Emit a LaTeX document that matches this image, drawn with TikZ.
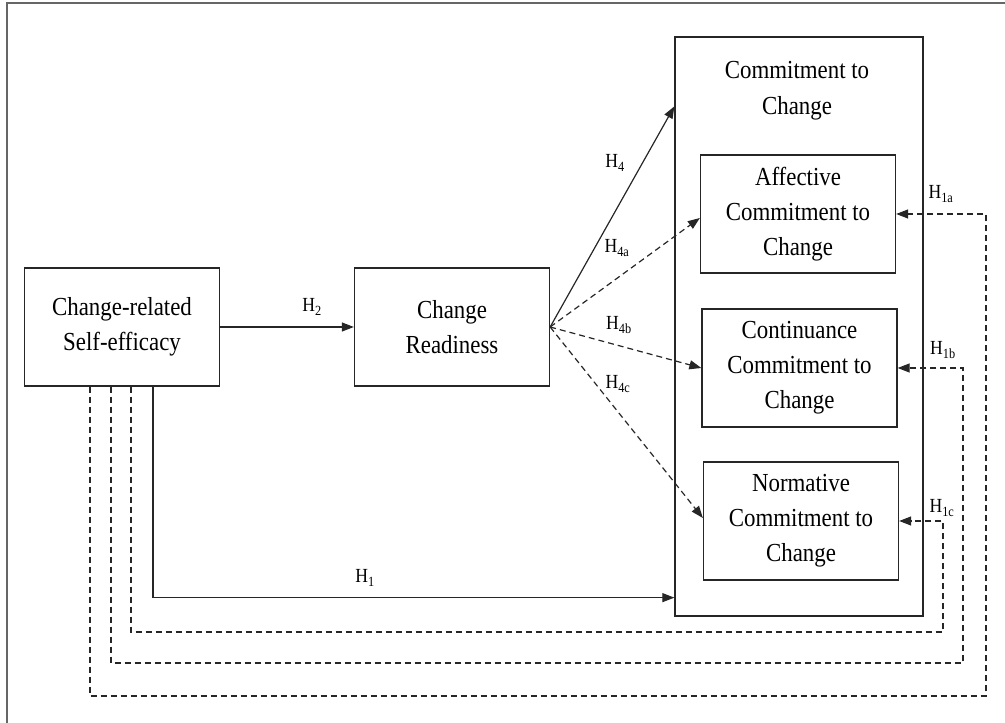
\documentclass[tikz,border=0pt]{standalone}
\usepackage{fontspec}
\setmainfont{Liberation Serif}[FakeStretch=0.88]
\usetikzlibrary{arrows.meta}
\tikzstyle{box} = [rectangle, minimum width=195pt, minimum height=118pt, inner sep=0pt, text centered, align=center, draw=black!85, line width=1.3pt, font=\fontsize{26}{35}\selectfont]
\tikzstyle{outerbox} = [rectangle, minimum width=248pt, minimum height=579pt, draw=black!85, line width=1.3pt]
\tikzstyle{title} = [align=center, font=\fontsize{26}{36}\selectfont]
\tikzstyle{hyp} = [inner sep=0pt, font=\fontsize{20}{22}\selectfont]
\tikzstyle{frame} = [draw=black!60, line width=1.5pt]
\tikzstyle{arrow} = [line width=1.2pt, draw=black!85, -{Triangle[length=12pt,width=9pt]}]
\tikzstyle{darrow} = [arrow, dash pattern=on 6pt off 4pt]

\begin{document}
\begin{tikzpicture}[x=1pt, y=1pt, node distance=154pt]
\useasboundingbox (0,0) rectangle (1005,723);
\draw [frame] (7,0) -- (7,720) -- (1005,720);
\node (eff) [box] at (122,396) {Change-related\\Self-efficacy};
\node (ready) [box] at (452,396) {Change\\Readiness};
\node (cc) [outerbox] at (799,396.5) {};
\node (cctitle) [title] at (797,632) {Commitment to\\Change};
\node (aff) [box] at (798,509) {Affective\\Commitment to\\Change};
\node (cont) [box, below of=aff, xshift=1.5pt] {Continuance\\Commitment to\\Change};
\node (norm) [box, below of=cont, xshift=1.5pt, yshift=1pt] {Normative\\Commitment to\\Change};
\draw [arrow] (eff) -- (ready);
\draw [arrow] (ready.east) -- ([yshift=-70pt]cc.north west);
\draw [darrow] (ready.east) -- ([yshift=-4pt]aff.west);
\draw [darrow] (ready.east) -- (cont.west);
\draw [darrow] (ready.east) -- ([yshift=3pt]norm.west);
\draw [arrow] ([xshift=31pt]eff.south) |- ([yshift=19pt]cc.south west);
%\draw [arrow] (eff.south) |- (cc.south west);
\draw [darrow] ([xshift=9pt]eff.south) |- (943,91) |- (norm.east);
\draw [darrow] ([xshift=-11pt]eff.south) |- (963,60) |- (cont.east);
\draw [darrow] ([xshift=-32pt]eff.south) |- (986,27) |- (aff.east);
\node (h2) [hyp] at (312,416) {H\textsubscript{2}};
\node (h4) [hyp] at (615,560) {H\textsubscript{4}};
\node (h4a) [hyp] at (617,475) {H\textsubscript{4a}};
\node (h4b) [hyp] at (619,398) {H\textsubscript{4b}};
\node (h4c) [hyp] at (618,339) {H\textsubscript{4c}};
\node (h1) [hyp] at (365,145) {H\textsubscript{1}};
\node (h1a) [hyp] at (941,529) {H\textsubscript{1a}};
\node (h1b) [hyp] at (943,373) {H\textsubscript{1b}};
\node (h1c) [hyp] at (942,215) {H\textsubscript{1c}};
\end{tikzpicture}
\end{document}
